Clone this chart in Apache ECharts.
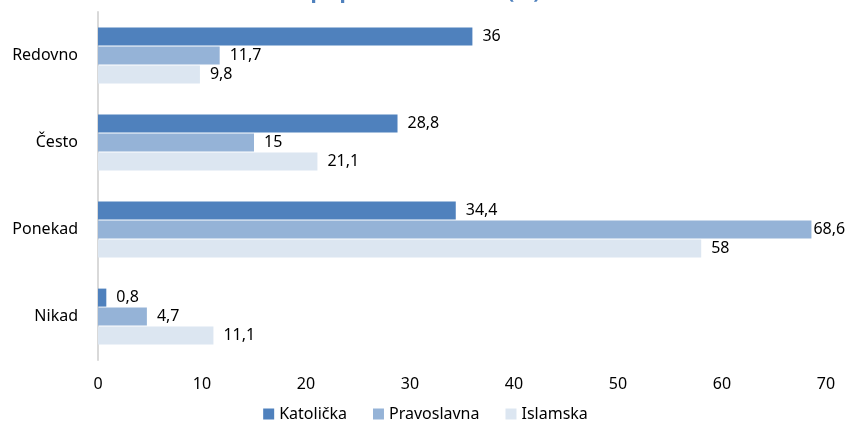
<!DOCTYPE html>
<html><head><meta charset="utf-8">
<script src="https://cdn.jsdelivr.net/npm/echarts@6/dist/echarts.min.js"></script>
<style>html,body{margin:0;padding:0;background:#fff}#c{width:851px;height:423px}</style>
</head><body><div id="c"></div>
<script>
const categories = ['Redovno', 'Često', 'Ponekad', 'Nikad'];
const seriesNames = ['Katolička', 'Pravoslavna', 'Islamska'];
const katolicka = [36, 28.8, 34.4, 0.8];
const pravoslavna = [11.7, 15, 68.6, 4.7];
const islamska = [9.8, 21.1, 58, 11.1];
const colors = ['#4F81BD', '#95B3D7', '#DCE6F1'];
const titleText = 'pripadnost nikada (%)';

const font = 'Noto Sans';
const dataSets = [katolicka, pravoslavna, islamska];
const chart = echarts.init(document.getElementById('c'));
chart.setOption({
  animation: false,
  title: { text: titleText, left: 'center', top: -23,
    textStyle: { color: '#4F81BD', fontFamily: font, fontWeight: 'bold', fontSize: 21 } },
  grid: { left: 98, right: 25, top: 12, bottom: 63, containLabel: false },
  legend: { bottom: -4, itemWidth: 11, itemHeight: 11, itemGap: 26, icon: 'rect',
    textStyle: { fontFamily: font, fontSize: 16, color: '#000' }, data: seriesNames },
  xAxis: { type: 'value', min: 0, max: 70, interval: 10,
    axisLine: { show: false }, axisTick: { show: false }, splitLine: { show: false },
    axisLabel: { fontFamily: font, fontSize: 16, color: '#000', margin: 16 } },
  yAxis: { type: 'category', data: categories, inverse: true,
    axisLine: { show: true, lineStyle: { color: '#d9d9d9', width: 2 } }, axisTick: { show: false },
    axisLabel: { fontFamily: font, fontSize: 16, color: '#000', margin: 20 } },
  series: dataSets.map((d, i) => ({
    name: seriesNames[i], type: 'bar', barWidth: 18, barGap: '5%', barCategoryGap: '38%',
    itemStyle: { color: colors[i] },
    data: d.map(v => v > 65 ? { value: v, label: { distance: 2 } } : v),
    label: { show: true, position: 'right', distance: 10, fontFamily: font, fontSize: 16, color: '#000',
      formatter: p => String(p.value).replace('.', ',') }
  }))
});
</script></body></html>
